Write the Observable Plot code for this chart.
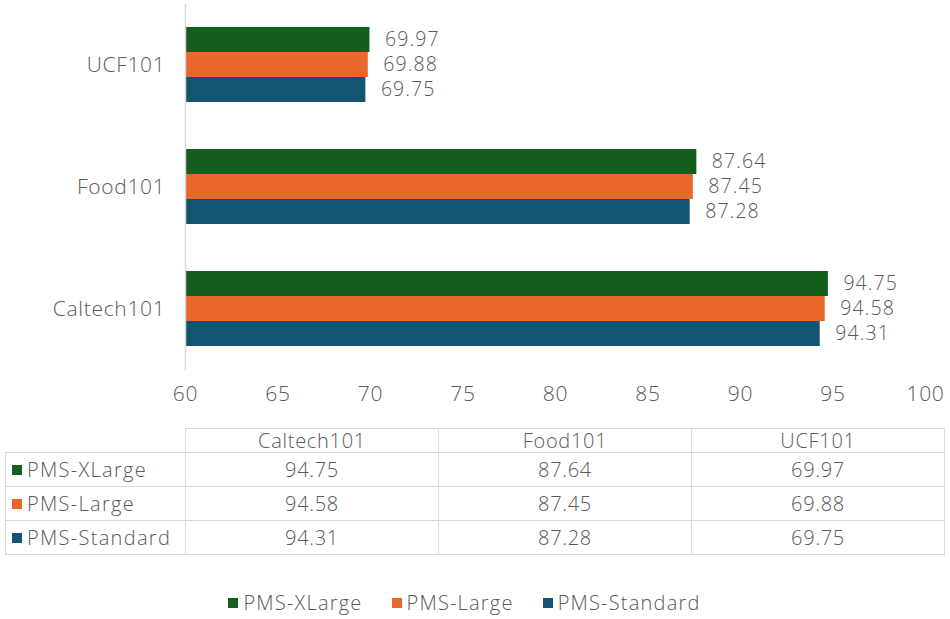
<!DOCTYPE html>
<html>
<head>
<meta charset="utf-8">
<script src="https://cdn.jsdelivr.net/npm/d3@7"></script>
<script src="https://cdn.jsdelivr.net/npm/@observablehq/plot@0.6"></script>
<style>
  html, body { margin: 0; padding: 0; background: #fff; }
  body { width: 950px; font-family: "Open Sans", "Noto Sans", sans-serif; font-weight: 300; color: #595959; }
  #chart svg { display: block; }
  #chart svg text { font-weight: 300; letter-spacing: 0.7px; }
  #chart svg g.values text { letter-spacing: 1.1px; }
  table { border-collapse: collapse; table-layout: fixed; width: 940px; margin-left: 5px; margin-top: 15px; font-size: 20px; letter-spacing: 0.7px; color: #595959; }
  td { border: 1.5px solid #d9d9d9; text-align: center; padding: 0; height: 33px; white-space: nowrap; }
  td.head { height: 23px; line-height: 22px; }
  td.blank { border-top: none; border-left: none; }
  td.name { text-align: left; padding-left: 6px; letter-spacing: 1.3px; }
  .sw { display: inline-block; width: 10px; height: 10px; margin-right: 5px; vertical-align: 2px; }
  #legend { display: flex; justify-content: center; gap: 29px; margin-top: 34px; padding-right: 21px; font-size: 20px; letter-spacing: 1.2px; }
</style>
</head>
<body>
<div id="chart"></div>
<div id="table"></div>
<div id="legend"></div>
<script>
const datasets = ["UCF101", "Food101", "Caltech101"];
const tableDatasets = ["Caltech101", "Food101", "UCF101"];
const series = ["PMS-XLarge", "PMS-Large", "PMS-Standard"];
const colors = ["#145f1e", "#e8672a", "#135473"];
const xLarge = { "Caltech101": 94.75, "Food101": 87.64, "UCF101": 69.97 };
const large = { "Caltech101": 94.58, "Food101": 87.45, "UCF101": 69.88 };
const standard = { "Caltech101": 94.31, "Food101": 87.28, "UCF101": 69.75 };
const xTicks = [60, 65, 70, 75, 80, 85, 90, 95, 100];

const seriesValues = [xLarge, large, standard];
const data = [];
datasets.forEach(d => series.forEach((s, i) => data.push({ dataset: d, series: s, value: seriesValues[i][d] })));

const font = "'Open Sans', 'Noto Sans', sans-serif";

const plot = Plot.plot({
  width: 950,
  height: 413,
  marginLeft: 185,
  marginRight: 25,
  marginTop: 5,
  marginBottom: 45,
  style: { fontFamily: font, fontSize: "21px", color: "#595959", background: "white" },
  x: { domain: [60, 100], ticks: xTicks, tickSize: 0, tickPadding: 40, label: null },
  y: { domain: series, padding: 0, axis: null },
  fy: { domain: datasets, paddingInner: 0.385, paddingOuter: 0.18, tickSize: 0, tickPadding: 20, label: null },
  color: { domain: series, range: colors },
  marks: [
    Plot.barX(data, { fy: "dataset", y: "series", x1: 60, x2: "value", fill: "series" }),
    Plot.text(data, { fy: "dataset", y: "series", x: "value", text: d => d.value.toFixed(2), textAnchor: "start", dx: 15, fill: "#595959", fontSize: 19.5, className: "values" }),
    Plot.ruleX([60], { stroke: "#d9d9d9", strokeWidth: 1.5, insetTop: -23, insetBottom: -24 })
  ]
});
document.getElementById("chart").appendChild(plot);

// data table
const valueRows = [xLarge, large, standard];
let html = "<table><colgroup><col style='width:180px'><col><col><col></colgroup><tr><td class='blank head'></td>";
tableDatasets.forEach(d => html += `<td class='head'>${d}</td>`);
html += "</tr>";
series.forEach((s, i) => {
  html += `<tr><td class='name'><span class='sw' style='background:${colors[i]}'></span>${s}</td>`;
  tableDatasets.forEach(d => html += `<td>${valueRows[i][d].toFixed(2)}</td>`);
  html += "</tr>";
});
html += "</table>";
document.getElementById("table").innerHTML = html;

// legend
document.getElementById("legend").innerHTML = series.map((s, i) =>
  `<span><span class='sw' style='background:${colors[i]}'></span>${s}</span>`).join("");
</script>
</body>
</html>
